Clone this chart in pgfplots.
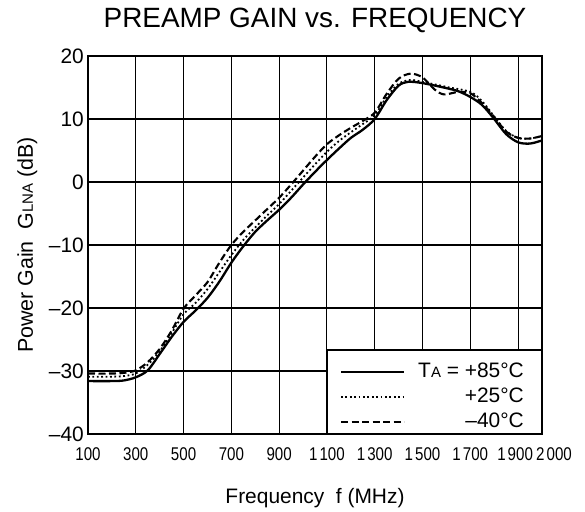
\documentclass[border=0pt]{standalone}
\usepackage{pgfplots}
\pgfplotsset{compat=1.18}
\usepackage{pgfplotstable}
\usepackage{fontspec}
\setmainfont{Liberation Sans}
\newcommand\fs[1]{\fontsize{#1}{#1}\selectfont}
\newcommand\xl[1]{\scalebox{0.82}[1]{#1}}
\newcommand\ks{\hspace{2.5bp}}

\pgfplotstableread{
f g
100 -31.6
200 -31.6
250 -31.5
300 -31.0
350 -29.9
400 -27.3
450 -24.6
500 -22.2
550 -20.4
600 -18.4
650 -15.8
700 -12.8
750 -10.2
800 -7.9
850 -6.1
900 -4.4
950 -2.5
1000 -0.4
1050 1.6
1100 3.5
1150 5.3
1200 7.0
1250 8.3
1300 10.0
1350 13.0
1400 15.3
1440 15.9
1500 15.7
1600 14.9
1650 14.4
1700 13.5
1750 12.2
1800 10.0
1850 7.6
1900 6.3
1950 6.1
2000 6.6
}\hot

\pgfplotstableread{
f g
100 -30.9
200 -30.9
250 -30.8
300 -30.4
350 -29.0
400 -26.9
450 -24.0
500 -21.0
550 -19.2
600 -17.0
650 -14.3
700 -11.6
750 -9.2
800 -7.2
850 -5.3
900 -3.5
950 -1.4
1000 0.7
1050 2.8
1100 4.8
1150 6.5
1200 7.9
1250 9.2
1300 10.6
1350 13.5
1400 15.6
1450 16.2
1500 15.9
1600 15.1
1700 14.3
1750 12.8
1800 10.4
1850 8.1
1900 7.0
1950 6.9
2000 7.3
}\room

\pgfplotstableread{
f g
100 -30.4
200 -30.4
250 -30.3
300 -29.9
350 -28.6
400 -26.5
450 -23.6
500 -20.1
550 -18.0
600 -15.9
650 -12.8
700 -10.0
750 -7.9
800 -6.1
850 -4.3
900 -2.5
950 -0.4
1000 1.8
1050 4.0
1100 6.0
1150 7.4
1200 8.6
1250 9.7
1300 11.0
1350 14.0
1400 16.4
1450 17.2
1500 16.6
1550 14.7
1590 13.9
1650 14.3
1700 14.1
1750 12.5
1800 10.3
1850 8.0
1900 7.0
1950 6.9
2000 7.3
}\cold

\begin{document}
\begin{tikzpicture}
\begin{axis}[name=ax, scale only axis, width=454bp, height=378bp,
  xmin=100, xmax=2000, ymin=-40, ymax=20,
  xtick={100,300,500,700,900,1100,1300,1500,1700,1900,2000},
  xticklabels={\xl{100},\xl{300},\xl{500},\xl{700},\xl{900},\xl{1\ks100},\xl{1\ks300},\xl{1\ks500},\xl{1\ks700},{\xl{1\ks900}\hspace*{6bp}},{\hspace*{24bp}\xl{2\ks000}}},
  ytick={-40,-30,-20,-10,0,10,20},
  yticklabels={–40,–30,–20,–10,0,10,20},
  xticklabel style={font=\fs{18.5}, inner sep=0pt, anchor=north, yshift=-13bp},
  yticklabel style={font=\fs{21}, inner sep=0pt, anchor=east, xshift=-4bp},
  major tick length=0pt,
  grid=major, major grid style={black, line width=1.1bp},
  axis line style={line width=2.2bp},
  legend style={at={(axis cs:2000,-40)}, anchor=south east, draw=none, fill=none,
    font=\fs{21}, inner xsep=18bp, inner ysep=2bp, row sep=6bp, column sep=13bp,
    nodes={inner sep=0pt, text height=15bp, text depth=4bp}},
  legend cell align=right,
  legend image code/.code={\draw[#1] (0bp,0bp) -- (63bp,0bp);},
]
\fill[white] ([yshift=1.1bp]axis cs:1100,-40) rectangle ([xshift=-1.1bp]axis cs:2000,-26.67);
\draw[black, line width=1.2bp] (axis cs:1100,-40) -- (axis cs:1100,-26.67) -- (axis cs:2000,-26.67);
\addplot[black, line width=2.3bp, smooth] table {\hot};
\addplot[black, line width=1.8bp, smooth, dash pattern=on 1.8bp off 2.6bp] table {\room};
\addplot[black, line width=2.1bp, smooth, dash pattern=on 7bp off 3.5bp] table {\cold};
\legend{T{\fs{15}A} = +85°C, +25°C, –40°C}
\end{axis}
\node[anchor=base, font=\fs{28}] at ([yshift=28bp]ax.north) {PREAMP GAIN vs. FREQUENCY};
\node[anchor=base, font=\fs{21}] at ([yshift=-69bp]ax.south) {Frequency\ \ f (MHz)};
\node[anchor=base, rotate=90, font=\fs{21.5}] at ([xshift=-55bp]ax.west) {Power Gain\ \ G{\fs{15}LNA} (dB)};
\pgfresetboundingbox
\path ([xshift=-88bp,yshift=-78bp]ax.south west) rectangle ([xshift=43bp,yshift=56bp]ax.north east);
\end{tikzpicture}
\end{document}
